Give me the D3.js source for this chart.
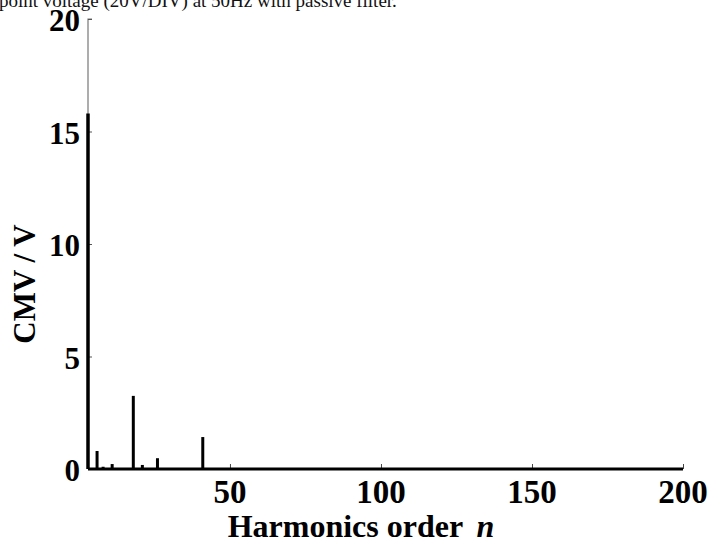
<!DOCTYPE html>
<html lang="en">
  <head>
    <meta charset="utf-8" />
    <style type="text/css">
      body {
        margin: 0;
        background: #fff;
      }
      svg text {
        font-family: "Liberation Serif", "Times New Roman", serif;
      }
    </style>
  </head>
  <body>
    <svg width="710" height="541"></svg>

    <script src="https://d3js.org/d3.v7.min.js"></script>
    <script type="text/javascript">
      // harmonic spectrum
      var orders = [3, 6, 8, 11, 18, 21, 26, 41];
      var cmv = [15.8, 0.8, 0.1, 0.22, 3.25, 0.18, 0.48, 1.42];
      var xTicks = [50, 100, 150, 200];
      var yTicks = [0, 5, 10, 15, 20];

      var svg = d3.select("svg");
      var padL = 88,
        padR = 683,
        padT = 19,
        padB = 469;

      var x = d3.scaleLinear().domain([3, 200]).range([padL, padR]);
      var y = d3.scaleLinear().domain([0, 20]).range([padB, padT]);

      // cut-off caption at top
      svg
        .append("text")
        .attr("x", -1)
        .attr("y", 7)
        .style("font-size", "19px")
        .attr("fill", "#111")
        .text("point voltage (20V/DIV) at 50Hz with passive filter.");

      // y axis: thin grey line, ticks inside
      var yAxis = d3
        .axisRight(y)
        .tickValues(yTicks)
        .tickSize(4)
        .tickFormat("");
      var gy = svg
        .append("g")
        .attr("transform", "translate(" + padL + ",0)")
        .call(yAxis);
      gy.select(".domain")
        .attr("stroke", "#777")
        .attr("stroke-width", 1.2)
        .attr("d", "M4," + padT + "H0V" + padB);
      gy.selectAll(".tick line").attr("stroke", "#555");

      // x axis ticks inward
      var xAxis = d3
        .axisTop(x)
        .tickValues(xTicks)
        .tickSize(5)
        .tickFormat("");
      var gx = svg
        .append("g")
        .attr("transform", "translate(0," + padB + ")")
        .call(xAxis);
      gx.select(".domain").remove();
      gx.selectAll(".tick line").attr("stroke", "#444");

      // baseline of the spectrum
      svg
        .append("line")
        .attr("x1", x(3))
        .attr("x2", x(200))
        .attr("y1", y(0))
        .attr("y2", y(0))
        .attr("stroke", "#000")
        .attr("stroke-width", 3);

      // spectral lines
      svg
        .selectAll(".stem")
        .data(orders)
        .enter()
        .append("line")
        .attr("class", "stem")
        .attr("x1", function (d) {
          return x(d);
        })
        .attr("x2", function (d) {
          return x(d);
        })
        .attr("y1", y(0))
        .attr("y2", function (d, i) {
          return y(cmv[i]);
        })
        .attr("stroke", "#000")
        .attr("stroke-width", function (d, i) {
          return i === 0 ? 3.5 : 3;
        });

      // tick labels
      svg
        .selectAll(".xlab")
        .data(xTicks)
        .enter()
        .append("text")
        .attr("class", "xlab")
        .attr("x", function (d) {
          return x(d);
        })
        .attr("y", 503)
        .attr("text-anchor", "middle")
        .style("font-size", "33px")
        .style("font-weight", "bold")
        .text(function (d) {
          return d;
        });

      svg
        .selectAll(".ylab")
        .data(yTicks)
        .enter()
        .append("text")
        .attr("class", "ylab")
        .attr("x", 80)
        .attr("y", function (d) {
          return y(d) + 12;
        })
        .attr("text-anchor", "end")
        .style("font-size", "31px")
        .style("font-weight", "bold")
        .text(function (d) {
          return d;
        });

      // axis titles
      var xt = svg
        .append("text")
        .attr("x", 361)
        .attr("y", 537)
        .attr("text-anchor", "middle")
        .style("font-size", "32px")
        .style("font-weight", "bold");
      xt.append("tspan").text("Harmonics order ");
      xt.append("tspan").attr("dx", 6).style("font-style", "italic").text("n");

      svg
        .append("text")
        .attr("transform", "translate(35,284) rotate(-90)")
        .attr("text-anchor", "middle")
        .style("font-size", "31px")
        .style("font-weight", "bold")
        .text("CMV / V");
    </script>
  </body>
</html>
